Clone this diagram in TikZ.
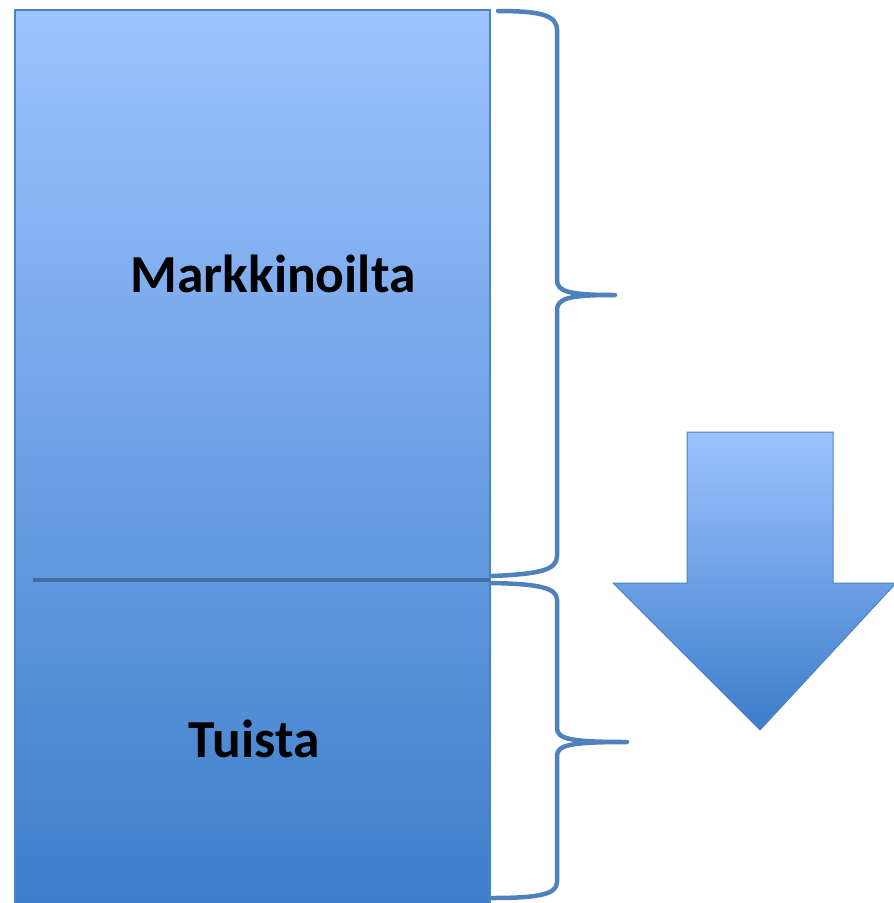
\documentclass[tikz,border=0pt]{standalone}
\usepackage{fontspec}
\setmainfont{Carlito}
\definecolor{edgeblue}{RGB}{79,129,189}
\definecolor{lightblue}{RGB}{157,195,255}
\definecolor{midblue}{RGB}{100,150,220}
\definecolor{darkblue}{RGB}{60,125,202}
\tikzset{
  bracestyle/.style={draw=edgeblue, line width=4.5pt, line cap=round, line join=round},
  label/.style={font=\fontsize{53.5}{60}\selectfont\bfseries, text=black, anchor=base, inner sep=0pt},
}
\begin{document}
\begin{tikzpicture}[x=1pt,y=-1pt]
\useasboundingbox (0,0) rectangle (894,903);
% main column
\shade[top color=lightblue, bottom color=darkblue, draw=edgeblue, line width=1.5pt]
  (15,10) rectangle (490,915);
\draw[draw=edgeblue!85!black, line width=4pt] (33,580) -- (490,580);
% braces
\draw[bracestyle] (498,11) .. controls (540,11) and (557,15) .. (557,30) -- (557,280)
  .. controls (557,292) and (570,295) .. (615,295)
  .. controls (570,295) and (557,298) .. (557,310) -- (557,556)
  .. controls (557,570) and (540,574) .. (492,576);
\draw[bracestyle] (492,583) .. controls (540,584) and (557,588) .. (557,600) -- (557,728)
  .. controls (557,739) and (570,742) .. (627,742)
  .. controls (570,742) and (557,745) .. (557,756) -- (557,882)
  .. controls (557,894) and (540,898) .. (492,898);
% arrow
\shade[top color=lightblue, bottom color=darkblue, draw=edgeblue, line width=1pt]
  (687,432) -- (833,432) -- (833,583) -- (896,583) -- (760,730) -- (613,583) -- (687,583) -- cycle;
% labels
\node[label] (markkinoilta) at (273,292) {Markkinoilta};
\node[label] (tuista) at (254,757) {Tuista};
\end{tikzpicture}
\end{document}
